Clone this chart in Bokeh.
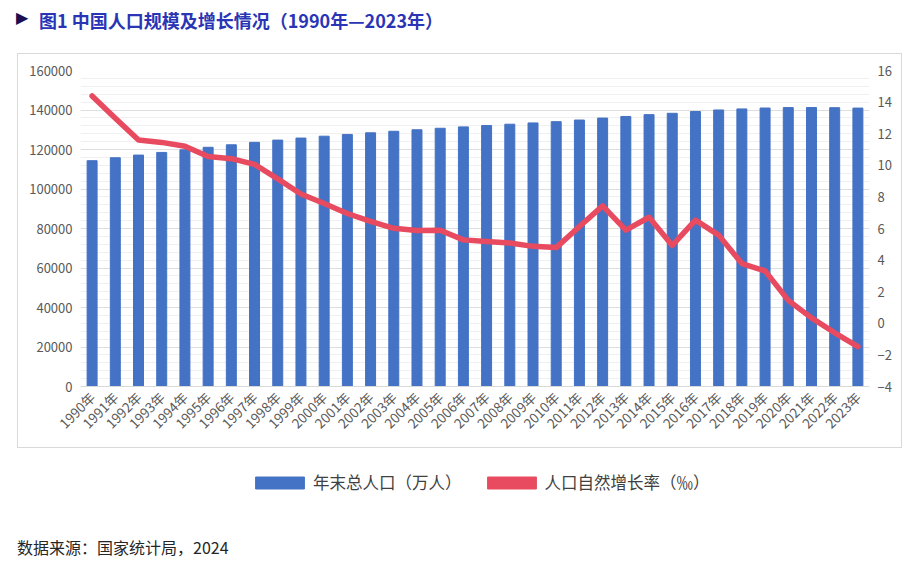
import math
from bokeh.plotting import figure
from bokeh.layouts import column
from bokeh.models import (FactorRange, Range1d, LinearAxis, SingleIntervalTicker,
                          NumeralTickFormatter, ColumnDataSource, Legend, LegendItem, Div)
from bokeh.embed import file_html
from bokeh.resources import INLINE

# ---- data -------------------------------------------------------------
years = [f"{y}年" for y in range(1990, 2024)]
population = [114333, 115823, 117171, 118517, 119850, 121121, 122389, 123626,
              124761, 125786, 126743, 127627, 128453, 129227, 129988, 130756,
              131448, 132129, 132802, 133450, 134091, 134916, 135922, 136726,
              137646, 138326, 139232, 140011, 140541, 141008, 141212, 141260,
              141175, 140967]
growth_rate = [14.39, 12.98, 11.60, 11.45, 11.21, 10.55, 10.42, 10.06, 9.14,
               8.18, 7.58, 6.95, 6.45, 6.01, 5.87, 5.89, 5.28, 5.17, 5.08,
               4.87, 4.79, 6.13, 7.43, 5.90, 6.71, 4.93, 6.53, 5.58, 3.78,
               3.32, 1.45, 0.34, -0.60, -1.48]
title_text = "图1 中国人口规模及增长情况（1990年—2023年）"
bar_label = "年末总人口（万人）"
line_label = "人口自然增长率（‰）"
source_text = "数据来源：国家统计局，2024"

FONT = "Noto Sans CJK SC"
BAR_COLOR = "#4472C4"
LINE_COLOR = "#E84A5F"
W = 912

# ---- heading ------------------------------------------------------------
head = Div(width=W, height=53, margin=0, text=(
    '<div style="position:relative;width:912px;height:53px;">'
    '<span style="position:absolute;left:16px;top:8px;font:16px \'DejaVu Sans\';'
    'line-height:20px;color:#1B0F4F;">▶</span>'
    f'<span style="position:absolute;left:39px;top:9px;font-family:\'{FONT}\';'
    'font-size:18px;font-weight:bold;line-height:22px;color:#2A35B5;'
    f'white-space:nowrap;">{title_text}</span></div>'))

# ---- main chart (boxed) -----------------------------------------------
src = ColumnDataSource(dict(year=years, pop=population, rate=growth_rate))
MW, MH = 885, 395
LB, RB = 62, 34
p = figure(width=MW, height=MH, x_range=FactorRange(*years), y_range=Range1d(0, 160000),
           output_backend="svg", toolbar_location=None,
           min_border_left=LB, min_border_right=RB, min_border_top=16,
           min_border_bottom=63, margin=(0, 0, 0, 17),
           styles={"border": "1px solid #d9d9d9", "box-sizing": "border-box"})
p.outline_line_color = None
p.extra_y_ranges = {"rate": Range1d(-4, 16)}

p.vbar(x="year", top="pop", width=0.43, color=BAR_COLOR, source=src)
p.line(x="year", y="rate", y_range_name="rate", line_color=LINE_COLOR,
       line_width=5.5, line_join="round", line_cap="round", source=src)

la = p.yaxis[0]
la.ticker = SingleIntervalTicker(interval=20000, num_minor_ticks=5)
la.formatter = NumeralTickFormatter(format="0")
ra = LinearAxis(y_range_name="rate", ticker=SingleIntervalTicker(interval=2))
p.add_layout(ra, "right")

for ax in (la, ra):
    ax.axis_line_color = None
    ax.major_tick_line_color = None
    ax.minor_tick_line_color = None
    ax.major_tick_out = 0
    ax.minor_tick_out = 0
    ax.major_label_standoff = 8
    ax.major_label_text_font = FONT
    ax.major_label_text_font_size = "13px"
    ax.major_label_text_color = "#595959"

xa = p.xaxis[0]
xa.axis_line_color = "#d9d9d9"
xa.major_tick_line_color = None
xa.major_tick_out = 0
xa.major_label_orientation = math.pi / 4
xa.major_label_standoff = 8
xa.major_label_text_font = FONT
xa.major_label_text_font_size = "13.5px"
xa.major_label_text_color = "#595959"

p.xgrid.grid_line_color = None
p.ygrid.grid_line_color = "#dedede"
p.ygrid.minor_grid_line_color = "#f0f0f0"

# ---- legend row (its frame lines up with the chart frame above) ---------
FH = 70
foot = figure(width=W, height=FH, x_range=Range1d(0, 10), y_range=Range1d(0, 10),
              output_backend="svg", toolbar_location=None,
              x_axis_type=None, y_axis_type=None, min_border=0,
              min_border_left=LB, min_border_right=RB)
foot.outline_line_color = None
foot.xgrid.visible = False
foot.ygrid.visible = False
# swatch renderers sit outside the visible ranges; only their legend entries show
r_bar = foot.vbar(x=[-5], top=[-5], bottom=[-6], width=1, color=BAR_COLOR)
r_line = foot.vbar(x=[-5], top=[-5], bottom=[-6], width=1, color=LINE_COLOR)
# area swatches are inset by 10% on each side, so the glyph box is 61x15
legend = Legend(items=[LegendItem(label=bar_label, renderers=[r_bar]),
                       LegendItem(label=line_label, renderers=[r_line])],
                orientation="horizontal", location=(249 - LB, 24),
                glyph_width=61, glyph_height=15, label_standoff=3, spacing=19,
                padding=0, margin=0, border_line_color=None,
                background_fill_alpha=0, label_height=16,
                label_text_font=FONT, label_text_font_size="16.5px",
                label_text_color="#404040", label_text_baseline="middle")
foot.add_layout(legend)

# ---- source note --------------------------------------------------------
note = Div(width=W, height=47, margin=0, text=(
    '<div style="position:relative;width:912px;height:47px;">'
    f'<span style="position:absolute;left:17px;top:19px;font-family:\'{FONT}\';'
    'font-size:16px;line-height:20px;color:#262626;white-space:nowrap;">'
    f'{source_text}</span></div>'))

layout = column(head, p, foot, note, spacing=0)
open("out.html", "w").write(file_html(layout, INLINE))
